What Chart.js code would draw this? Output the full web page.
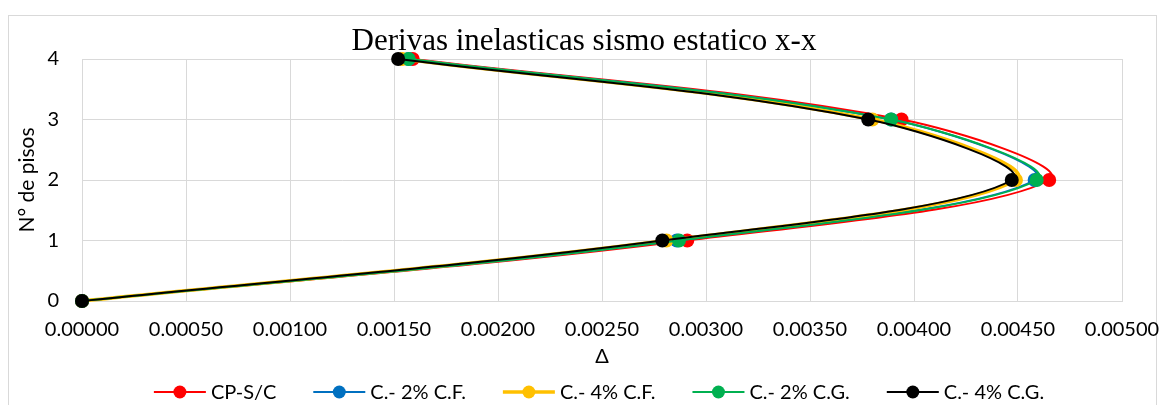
<!DOCTYPE html>
<html>
<head>
<meta charset="utf-8">
<script src="https://cdn.jsdelivr.net/npm/chart.js@4.4.1/dist/chart.umd.min.js"></script>
<style>
  html, body { margin: 0; padding: 0; background: #ffffff; }
  #wrap { width: 1164px; height: 405px; }
</style>
</head>
<body>
<div id="wrap"><canvas id="c" width="1164" height="405"></canvas></div>
<script>
// Storey numbers (y) and inelastic drifts (x) per structural case
const floors = [0, 1, 2, 3, 4];
const seriesNames = ['CP-S/C', 'C.- 2% C.F.', 'C.- 4% C.F.', 'C.- 2% C.G.', 'C.- 4% C.G.'];
const driftCPSC = [0, 0.00291, 0.00465, 0.00394, 0.00159];
const driftCF2  = [0, 0.00286, 0.00458, 0.00389, 0.00157];
const driftCF4  = [0, 0.00281, 0.00449, 0.00380, 0.00154];
const driftCG2  = [0, 0.00287, 0.00459, 0.00389, 0.00157];
const driftCG4  = [0, 0.00279, 0.00447, 0.00378, 0.00152];

const xTickValues = [0, 0.0005, 0.001, 0.0015, 0.002, 0.0025, 0.003, 0.0035, 0.004, 0.0045, 0.005];
const xTickLabels = ['0.00000', '0.00050', '0.00100', '0.00150', '0.00200', '0.00250',
                     '0.00300', '0.00350', '0.00400', '0.00450', '0.00500'];
const yTickValues = [0, 1, 2, 3, 4];
const yTickLabels = ['0', '1', '2', '3', '4'];

const chartTitle = 'Derivas inelasticas sismo estatico x-x';
const xTitle = '\u0394';
const yTitle = 'N\u00b0 de pisos';

const colors = ['#FF0000', '#0070C0', '#FFC000', '#00B050', '#000000'];
const widths = [2, 2, 3.5, 2, 2];
const driftSeries = [driftCPSC, driftCF2, driftCF4, driftCG2, driftCG4];

const UI_FONT = 'Lato, "Open Sans", "DejaVu Sans", sans-serif';

const datasets = driftSeries.map((drift, i) => ({
  label: seriesNames[i],
  data: drift.map((x, k) => ({ x: x, y: floors[k] })),
  showLine: true,
  borderColor: colors[i],
  backgroundColor: colors[i],
  borderWidth: widths[i],
  pointRadius: 7,
  pointHoverRadius: 7,
  pointBorderWidth: 0,
  tension: 0.35,
  clip: false,
  // later series sit on top of earlier ones
  order: seriesNames.length - i
}));

// Light grey frame around the whole chart
const framePlugin = {
  id: 'frame',
  beforeDraw(chart) {
    const ctx = chart.ctx;
    ctx.save();
    ctx.fillStyle = '#ffffff';
    ctx.fillRect(0, 0, chart.width, chart.height);
    ctx.strokeStyle = '#d9d9d9';
    ctx.lineWidth = 1;
    ctx.strokeRect(8.5, 15.5, chart.width - 16, chart.height + 10);
    ctx.restore();
  }
};

// Title overlapping the top of the plot
const titlePlugin = {
  id: 'overTitle',
  beforeDatasetsDraw(chart) {
    const ctx = chart.ctx;
    ctx.save();
    ctx.font = '31px "Liberation Serif", "Times New Roman", serif';
    ctx.fillStyle = '#000000';
    ctx.textAlign = 'center';
    ctx.textBaseline = 'alphabetic';
    ctx.fillText(chartTitle, 584, 50);
    ctx.restore();
  }
};

// Legend with a line segment and a marker for each series
const lineLegendPlugin = {
  id: 'lineLegend',
  afterDraw(chart) {
    const ctx = chart.ctx;
    const segW = 52, gapText = 5, gapItem = 37, y = 392, centerX = 599;
    ctx.save();
    ctx.font = '20px ' + UI_FONT;
    ctx.textBaseline = 'middle';
    ctx.textAlign = 'left';
    const items = chart.data.datasets.map((ds) => ({
      ds, w: segW + gapText + ctx.measureText(ds.label).width
    }));
    const total = items.reduce((s, it) => s + it.w, 0) + gapItem * (items.length - 1);
    let x = centerX - total / 2;
    items.forEach((it) => {
      ctx.strokeStyle = it.ds.borderColor;
      ctx.lineWidth = it.ds.borderWidth;
      ctx.beginPath();
      ctx.moveTo(x, y);
      ctx.lineTo(x + segW, y);
      ctx.stroke();
      ctx.fillStyle = it.ds.backgroundColor;
      ctx.beginPath();
      ctx.arc(x + segW / 2, y, 6.5, 0, Math.PI * 2);
      ctx.fill();
      ctx.fillStyle = '#000000';
      ctx.fillText(it.ds.label, x + segW + gapText, y + 1);
      x += it.w + gapItem;
    });
    ctx.restore();
  }
};

new Chart(document.getElementById('c'), {
  type: 'scatter',
  data: { datasets },
  options: {
    responsive: false,
    animation: false,
    devicePixelRatio: 1,
    layout: { padding: { left: 8, right: 42, top: 59, bottom: 34 } },
    plugins: {
      legend: { display: false },
      title: { display: false },
      tooltip: { enabled: false }
    },
    scales: {
      x: {
        type: 'linear',
        min: 0,
        max: 0.005,
        afterBuildTicks(scale) { scale.ticks = xTickValues.map(v => ({ value: v })); },
        afterFit(scale) {
          scale.height = 70;
          scale.paddingLeft = 0;
          scale.paddingRight = 0;
        },
        ticks: {
          padding: 17,
          color: '#000000',
          font: { family: UI_FONT, size: 20 },
          maxRotation: 0,
          autoSkip: false,
          callback: (v, i) => xTickLabels[i]
        },
        grid: { color: '#d9d9d9', lineWidth: 1, drawTicks: false },
        border: { color: '#d9d9d9' },
        title: {
          display: true,
          text: xTitle,
          color: '#000000',
          font: { family: UI_FONT, size: 20 },
          padding: { top: 0, bottom: 2 }
        }
      },
      y: {
        type: 'linear',
        min: 0,
        max: 4,
        afterBuildTicks(scale) { scale.ticks = yTickValues.map(v => ({ value: v })); },
        afterFit(scale) {
          scale.width = 74;
          scale.paddingTop = 0;
          scale.paddingBottom = 0;
        },
        ticks: {
          padding: 23,
          color: '#000000',
          font: { family: UI_FONT, size: 20 },
          callback: (v, i) => yTickLabels[i]
        },
        grid: { color: '#d9d9d9', lineWidth: 1, drawTicks: false },
        border: { color: '#d9d9d9' },
        title: {
          display: true,
          text: yTitle,
          color: '#000000',
          font: { family: UI_FONT, size: 21 },
          padding: { top: 7, bottom: 0 }
        }
      }
    }
  },
  plugins: [framePlugin, titlePlugin, lineLegendPlugin]
});
</script>
</body>
</html>
